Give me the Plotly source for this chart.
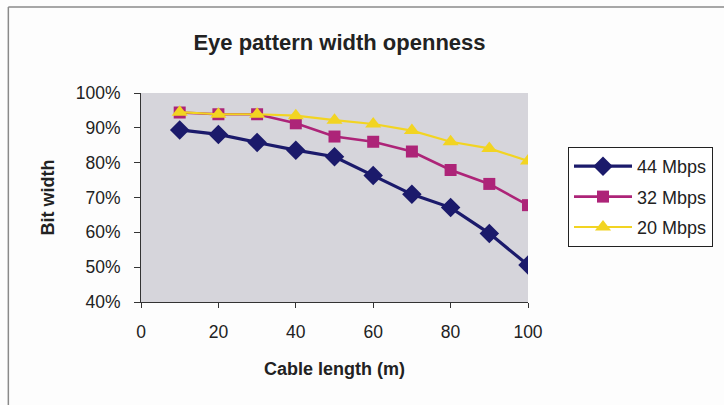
import plotly.graph_objects as go

# Eye opening (fraction of bit period) versus cable length
cable_length_m = [10, 20, 30, 40, 50, 60, 70, 80, 90, 100]
width_44mbps = [0.894, 0.881, 0.858, 0.836, 0.817, 0.763, 0.709, 0.671, 0.597, 0.506]
width_32mbps = [0.944, 0.939, 0.939, 0.913, 0.875, 0.860, 0.832, 0.779, 0.739, 0.678]
width_20mbps = [0.945, 0.939, 0.939, 0.935, 0.922, 0.911, 0.892, 0.860, 0.841, 0.805]

W, H = 724, 405
L, R, T, B = 141, 195, 93, 103  # plot-area margins in px

def px_x(px):
    return (px - L) / (W - L - R)

def px_y(py):
    return 1 - (py - T) / (H - T - B)

FONT = "Liberation Sans, Arial, sans-serif"

fig = go.Figure()
series = [
    ("44 Mbps", width_44mbps, "#1b1a6b", "diamond", 15, 3.2),
    ("32 Mbps", width_32mbps, "#ad2478", "square", 12, 2.6),
    ("20 Mbps", width_20mbps, "#f2d422", "triangle-up", 14, 2.2),
]
for i, (name, vals, color, sym, msize, lw) in enumerate(series):
    fig.add_trace(go.Scatter(
        x=cable_length_m, y=vals, name=name, mode="lines+markers",
        line=dict(color=color, width=lw),
        marker=dict(symbol=sym, size=msize, color=color),
        legendgroup=f"g{i}",
    ))

fig.update_layout(
    width=W, height=H,
    margin=dict(l=L, r=R, t=T, b=B),
    paper_bgcolor="#fdfdfd",
    plot_bgcolor="#d6d5db",
    font=dict(family=FONT, color="#222222"),
    title=dict(
        text="<b>Eye pattern width openness</b>",
        font=dict(size=22, family=FONT, color="#222222"),
        x=px_x(340), xref="paper", xanchor="center",
        y=1 - 42 / H, yref="container", yanchor="middle",
    ),
    xaxis=dict(
        range=[0, 100], tick0=0, dtick=20,
        showgrid=False, zeroline=False,
        showline=True, linecolor="#333333", linewidth=1,
        ticks="outside", ticklen=5, tickcolor="#333333",
        tickfont=dict(size=17.5, family=FONT, color="#222222"),
        ticklabelstandoff=9,
        title=dict(text="<b>Cable length (m)</b>",
                   font=dict(size=18, family=FONT, color="#222222"),
                   standoff=21),
    ),
    yaxis=dict(
        range=[0.4, 1.0], tick0=0.4, dtick=0.1, tickformat=".0%",
        showgrid=False, zeroline=False,
        showline=True, linecolor="#333333", linewidth=1,
        ticks="outside", ticklen=6, tickcolor="#333333",
        tickfont=dict(size=17.5, family=FONT, color="#222222"),
        ticklabelstandoff=10,
        title=dict(text="<b>Bit width</b>",
                   font=dict(size=18, family=FONT, color="#222222"),
                   standoff=16),
    ),
    legend=dict(
        x=px_x(568), y=px_y(147), xanchor="left", yanchor="top",
        xref="paper", yref="paper",
        bgcolor="#ffffff", bordercolor="#222222", borderwidth=1,
        font=dict(size=18, family=FONT, color="#222222"),
        tracegroupgap=4, itemwidth=58,
    ),
    shapes=[
        # chart frame (top and left edges)
        dict(type="line", xref="paper", yref="paper",
             x0=px_x(8), x1=px_x(W + 5), y0=px_y(7), y1=px_y(7),
             line=dict(color="#8a8a8a", width=1.5)),
        dict(type="line", xref="paper", yref="paper",
             x0=px_x(8), x1=px_x(8), y0=px_y(7), y1=px_y(H + 5),
             line=dict(color="#8a8a8a", width=1.5)),
    ],
)

fig.write_html("out.html")
